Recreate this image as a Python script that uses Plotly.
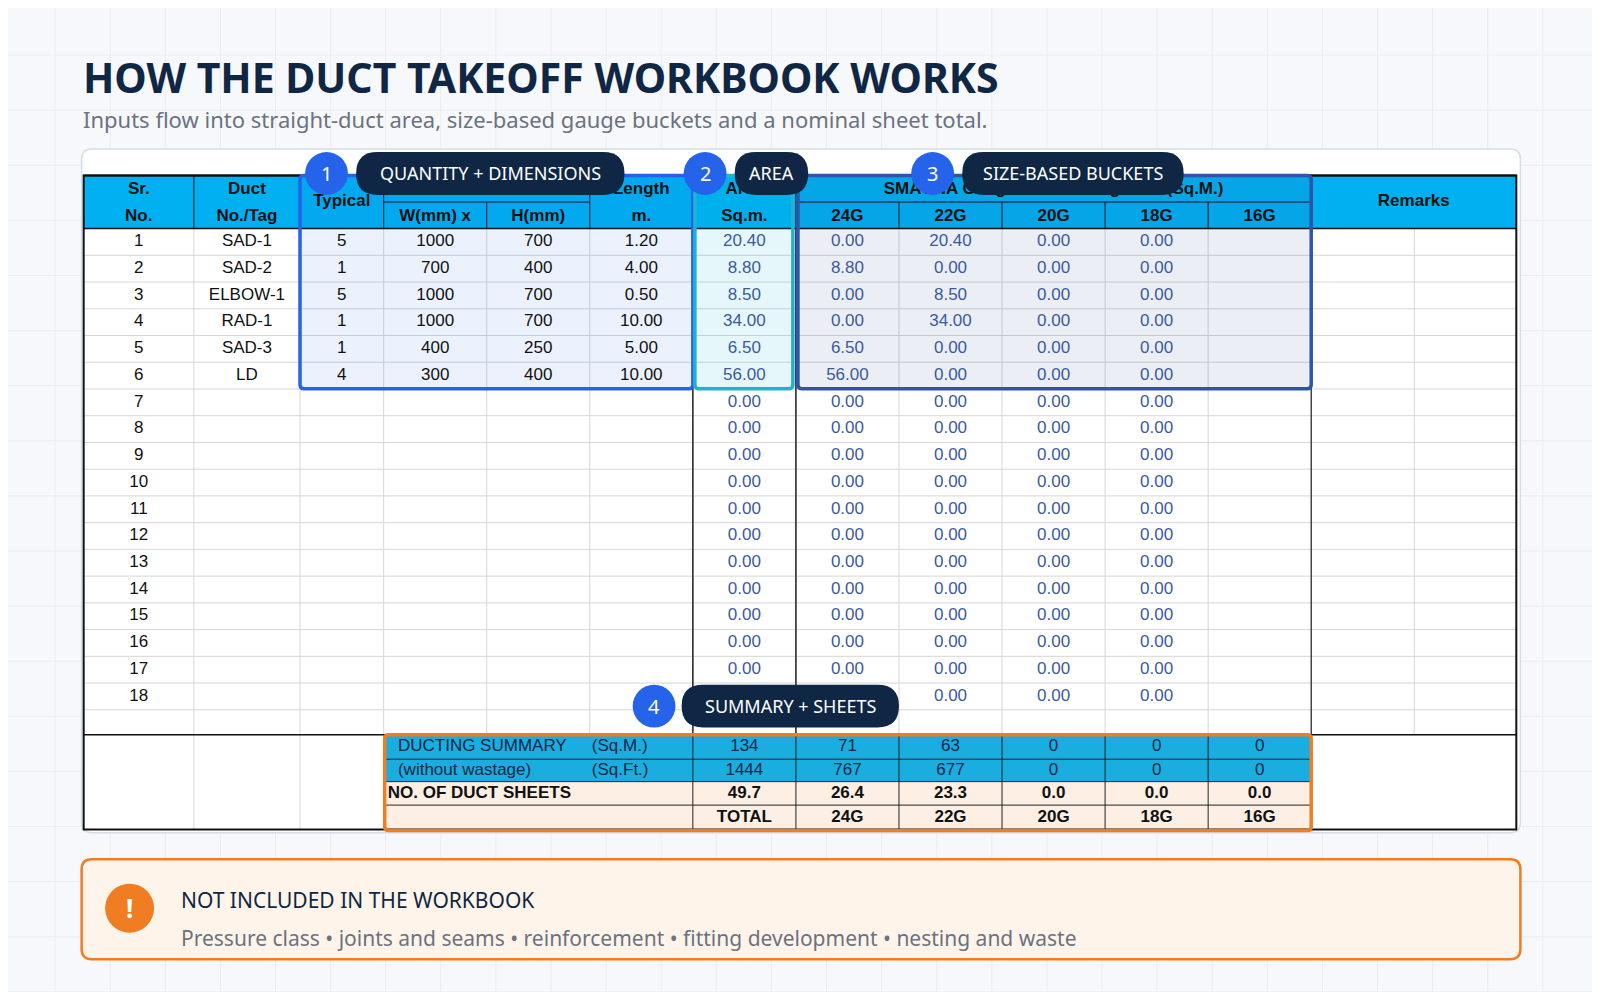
import plotly.graph_objects as go

W_PX, H_PX = 1568, 980

# ---- data ----
sr_no = list(range(1, 19))
tags = ["SAD-1", "SAD-2", "ELBOW-1", "RAD-1", "SAD-3", "LD"]
typical = [5, 1, 5, 1, 1, 4]
width_mm = [1000, 700, 1000, 1000, 400, 300]
height_mm = [700, 400, 700, 700, 250, 400]
length_m = [1.20, 4.00, 0.50, 10.00, 5.00, 10.00]
area_sqm = [20.40, 8.80, 8.50, 34.00, 6.50, 56.00] + [0.0] * 12
g24 = [0.00, 8.80, 0.00, 0.00, 6.50, 56.00] + [0.0] * 12
g22 = [20.40, 0.00, 8.50, 34.00, 0.00, 0.00] + [0.0] * 12
g20 = [0.0] * 18
g18 = [0.0] * 18
gauges = ["24G", "22G", "20G", "18G", "16G"]
sum_sqm = [134, 71, 63, 0, 0, 0]
sum_sqft = [1444, 767, 677, 0, 0, 0]
sheets = [49.7, 26.4, 23.3, 0.0, 0.0, 0.0]
total_labels = ["TOTAL"] + gauges
excluded = ["Pressure class", "joints and seams", "reinforcement",
            "fitting development", "nesting and waste"]

# ---- geometry ----
cols = [82, 190, 294, 376, 477, 578, 679, 780, 881, 982, 1083, 1184, 1285, 1486]
mid = [(a + b) / 2 for a, b in zip(cols[:-1], cols[1:])]
row_edges = [224 + 26.2 * i for i in range(19)]
row_mid = [(a + b) / 2 for a, b in zip(row_edges[:-1], row_edges[1:])]
sum_edges = [720, 744, 766, 789, 813]
sum_mid = [(a + b) / 2 for a, b in zip(sum_edges[:-1], sum_edges[1:])]

CYAN = "#00b0f0"
NAVY = "#0f2744"
BLUE = "#2563eb"
ORANGE = "#f07d22"
VAL = "#3b5a9c"
FONT = "Liberation Sans, Arial"

shapes = []


def rect(x0, y0, x1, y1, fill=None, line=None, lw=1, layer="below", rad=0):
    d = dict(type="rect", x0=x0, y0=y0, x1=x1, y1=y1, layer=layer,
             fillcolor=fill or "rgba(0,0,0,0)",
             line=dict(color=line or "rgba(0,0,0,0)", width=lw))
    if rad:
        r = rad
        d = dict(type="path", layer=layer, fillcolor=fill or "rgba(0,0,0,0)",
                 line=dict(color=line or "rgba(0,0,0,0)", width=lw),
                 path=(f"M{x0+r},{y0} L{x1-r},{y0} Q{x1},{y0} {x1},{y0+r} "
                       f"L{x1},{y1-r} Q{x1},{y1} {x1-r},{y1} L{x0+r},{y1} "
                       f"Q{x0},{y1} {x0},{y1-r} L{x0},{y0+r} Q{x0},{y0} {x0+r},{y0} Z"))
    shapes.append(d)


def hline(x0, x1, y, color, w=1, layer="below"):
    shapes.append(dict(type="line", x0=x0, x1=x1, y0=y, y1=y, layer=layer,
                       line=dict(color=color, width=w)))


def vline(x, y0, y1, color, w=1, layer="below"):
    shapes.append(dict(type="line", x0=x, x1=x, y0=y0, y1=y1, layer=layer,
                       line=dict(color=color, width=w)))


# page background grid
rect(-20, -20, W_PX + 20, H_PX + 20, fill="#f6f8fb")
for gx in range(0, W_PX, 54):
    vline(gx, -20, H_PX + 20, "#e9edf2")
for gy in range(0, H_PX, 54):
    hline(-20, W_PX + 20, gy, "#e9edf2")

# card
rect(80, 146, 1490, 816, fill="white", line="#d5dde6", lw=1.5, rad=10)

# header fills
rect(82, 172, 1486, 224, fill=CYAN)
# grid lines in body
for y in row_edges + [720]:
    hline(82, 1486, y, "#d6d6d6")
for x in cols[1:-1] + [1386]:
    vline(x, 224, 720, "#d6d6d6")
# header lines
hline(82, 1486, 172, "#111", 2)
hline(82, 1486, 224, "#111", 1.5)
hline(376, 578, 198, "#111", 1)
hline(780, 1285, 198, "#111", 1)
for x in [190, 294, 578, 679, 780, 1285]:
    vline(x, 172, 224, "#111", 1)
for x in [477, 881, 982, 1083, 1184]:
    vline(x, 198, 224, "#111", 1)
vline(376, 172, 224, "#111", 1)
vline(679, 224, 720, "#222", 1.5)
vline(780, 224, 720, "#222", 1.5)
vline(1285, 224, 813, "#222", 1.2)

# summary block
rect(376, 720, 1285, 766, fill="#1aaee0")
rect(376, 766, 1285, 813, fill="#fdefe4")
for y in sum_edges[1:-1]:
    hline(376, 1285, y, "#222", 1)
for x in cols[6:12]:
    vline(x, 720, 813, "#222", 1)
for x in [190, 294]:
    vline(x, 720, 813, "#d6d6d6")
hline(82, 1486, 720, "#111", 1.5)
# outer border
rect(82, 172, 1486, 813, line="#111", lw=2)

# highlight overlays
rect(294, 172, 679, 381, fill="rgba(37,99,235,0.09)", line=BLUE, lw=3.5, rad=4)
rect(681, 172, 777, 381, fill="rgba(0,176,220,0.10)", line="#1fb3d2", lw=3.5, rad=4)
rect(782, 172, 1285, 381, fill="rgba(40,70,150,0.09)", line="#2d56a8", lw=3.5, rad=4)
rect(377, 720, 1285, 814, line=ORANGE, lw=3.5, rad=4)

# note box
rect(80, 842, 1490, 940, fill="#fff4ea", line=ORANGE, lw=2.5, rad=10)
shapes.append(dict(type="circle", x0=103, x1=151, y0=866, y1=914,
                   fillcolor=ORANGE, line=dict(width=0), layer="above"))

# ---- text traces ----
tx, ty, tt, tc = [], [], [], []


def put(x, y, t, c="#111", bold=False):
    tx.append(x); ty.append(y)
    tt.append(f"<b>{t}</b>" if bold else str(t))
    tc.append(c)


# headers
put(mid[0], 186, "Sr.", bold=True); put(mid[0], 212, "No.", bold=True)
put(mid[1], 186, "Duct", bold=True); put(mid[1], 212, "No./Tag", bold=True)
put(mid[2], 198, "Typical", bold=True)
put((376 + 578) / 2, 186, "Duct Size", bold=True)
put(mid[3], 212, "W(mm) x", bold=True); put(mid[4], 212, "H(mm)", bold=True)
put(mid[5], 186, "Length", bold=True); put(mid[5], 212, "m.", bold=True)
put(mid[6], 186, "Area", bold=True); put(mid[6], 212, "Sq.m.", bold=True)
put((780 + 1285) / 2, 186, "SMACNA Gaugewise Ducting Area (Sq.M.)", bold=True)
for i, g in enumerate(gauges):
    put(mid[7 + i], 212, g, bold=True)
put((1285 + 1486) / 2, 198, "Remarks", bold=True)

for i, s in enumerate(sr_no):
    y = row_mid[i]
    put(mid[0], y, s)
    if i < len(tags):
        put(mid[1], y, tags[i]); put(mid[2], y, typical[i])
        put(mid[3], y, width_mm[i]); put(mid[4], y, height_mm[i])
        put(mid[5], y, f"{length_m[i]:.2f}")
    for j, ser in enumerate([area_sqm, g24, g22, g20, g18]):
        if i == 17 and j < 2:
            continue  # hidden under the "SUMMARY + SHEETS" callout
        put(mid[6 + j], y, f"{ser[i]:.2f}", VAL)

put(390, sum_mid[0], "DUCTING SUMMARY", NAVY); put(580, sum_mid[0], "(Sq.M.)", NAVY)
put(390, sum_mid[1], "(without wastage)", NAVY); put(580, sum_mid[1], "(Sq.Ft.)", NAVY)
put(380, sum_mid[2], "NO. OF DUCT SHEETS", bold=True)
for j in range(6):
    put(mid[6 + j], sum_mid[0], sum_sqm[j], NAVY)
    put(mid[6 + j], sum_mid[1], sum_sqft[j], NAVY)
    put(mid[6 + j], sum_mid[2], f"{sheets[j]:.1f}", bold=True)
    put(mid[6 + j], sum_mid[3], total_labels[j], bold=True)

left = {"DUCTING SUMMARY", "(Sq.M.)", "(without wastage)", "(Sq.Ft.)",
        "<b>NO. OF DUCT SHEETS</b>"}
pos = ["middle right" if t in left else "middle center" for t in tt]

fig = go.Figure(go.Scatter(
    x=tx, y=ty, text=tt, mode="text", textposition=pos, hoverinfo="skip",
    textfont=dict(family=FONT, size=17, color=tc), showlegend=False))

# ---- callout pills (shapes above traces, text in annotations) ----
annotations = []
callouts = [("1", 320, "QUANTITY + DIMENSIONS", 349, 612, 170),
            ("2", 691, "AREA", 720, 792, 170),
            ("3", 914, "SIZE-BASED BUCKETS", 943, 1160, 170),
            ("4", 641, "SUMMARY + SHEETS", 668, 881, 692)]
for num, cx, label, px0, px1, cy in callouts:
    rect(px0, cy - 21, px1, cy + 21, fill=NAVY, layer="above", rad=21)
    shapes.append(dict(type="circle", x0=cx - 21, x1=cx + 21, y0=cy - 21,
                       y1=cy + 21, fillcolor=BLUE, line=dict(width=0),
                       layer="above"))
    annotations.append(dict(x=cx, y=cy, text=num, showarrow=False,
                            font=dict(family="Noto Sans", size=20, color="white")))
    annotations.append(dict(x=(px0 + px1) / 2, y=cy, text=label, showarrow=False,
                            font=dict(family="Noto Sans", size=18, color="white")))

annotations += [
    dict(x=79, y=75, text="<b>HOW THE DUCT TAKEOFF WORKBOOK WORKS</b>",
         xanchor="left", showarrow=False,
         font=dict(family="Noto Sans", size=41, color=NAVY)),
    dict(x=79, y=117, text="Inputs flow into straight-duct area, size-based gauge "
         "buckets and a nominal sheet total.", xanchor="left", showarrow=False,
         font=dict(family="Noto Sans", size=22, color="#6b7280")),
    dict(x=127, y=890, text="<b>!</b>", showarrow=False,
         font=dict(family="Noto Sans", size=26, color="white")),
    dict(x=175, y=882, text="NOT INCLUDED IN THE WORKBOOK", xanchor="left",
         showarrow=False, font=dict(family="Noto Sans", size=21, color=NAVY)),
    dict(x=175, y=919, text=" • ".join(excluded), xanchor="left",
         showarrow=False, font=dict(family="Noto Sans", size=21, color="#6b7280")),
]

# page body has an 8px margin; map reference pixels onto the 1600x1000 window
fig.update_layout(
    width=1584, height=984, margin=dict(l=0, r=0, t=0, b=0),
    paper_bgcolor="#f6f8fb", plot_bgcolor="#f6f8fb",
    xaxis=dict(range=[7.84, 7.84 + 1584 / 1.0204], visible=False, fixedrange=True),
    yaxis=dict(range=[7.84 + 984 / 1.0204, 7.84], visible=False, fixedrange=True),
    shapes=shapes, annotations=annotations)

fig.write_html("out.html")
